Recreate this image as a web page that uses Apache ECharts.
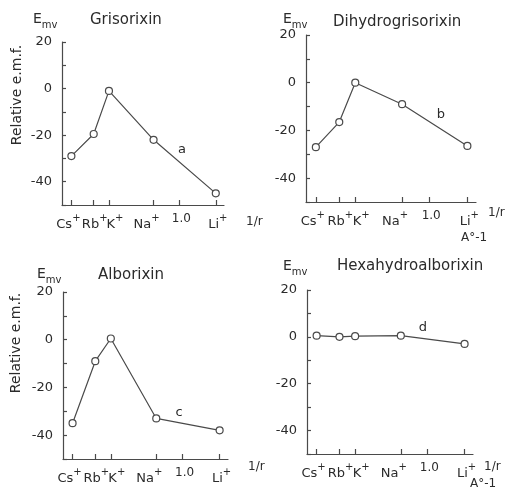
<!DOCTYPE html>
<html><head><meta charset="utf-8">
<script src="https://cdn.jsdelivr.net/npm/echarts@6/dist/echarts.min.js"></script>
<style>html,body{margin:0;background:#fff}#c{width:511px;height:495px}</style>
</head><body><div id="c"></div>
<script>
// Ions and their positions along the 1/r axis
const ions = ['Cs', 'Rb', 'K', 'Na', 'Li'];
const ionX = [0.54, 0.635, 0.70, 0.89, 1.155];
const refTick = 1.0;
const refLabel = '1.0';
const titles = ['Grisorixin', 'Dihydrogrisorixin', 'Alborixin', 'Hexahydroalborixin'];
const curveLetters = ['a', 'b', 'c', 'd'];
// Relative e.m.f. (mV)
const grisorixin = [-29, -19.5, -1, -22, -45];
const dihydrogrisorixin = [-27, -16.5, 0, -9, -26.5];
const alborixin = [-35, -9, 0.5, -33, -38];
const hexahydroalborixin = [0.5, 0, 0.3, 0.5, -3];
const yLabelled = [20, 0, -20, -40];

const seriesData = [grisorixin, dihydrogrisorixin, alborixin, hexahydroalborixin];
const INK = '#2b2b2b';
const LINE = '#4a4a4a';
const FONT = 'DejaVu Sans';
// horizontal nudge (px) of each ion label relative to its tick: Cs, Rb, K, Na, Li
const labelNudge = [-3, 1, 6, -7, 2];
const REF_NUDGE = 2;

const grids = [
  {left: 62, top: 42, width: 162, height: 163},
  {left: 306, top: 35, width: 170, height: 167},
  {left: 63, top: 292, width: 165, height: 167},
  {left: 307, top: 290, width: 166, height: 164}
];

const xTickVals = ionX.concat([refTick]);
// labels split over two stacked axes so none is dropped by overlap handling
const labelSetA = [ionX[0], ionX[2], refTick];
const labelSetB = [ionX[1], ionX[3], ionX[4]];

function xLabel(v) {
  if (Math.abs(v - refTick) < 1e-6) return '{r|' + refLabel + '}';
  let best = 0;
  for (let i = 0; i < ionX.length; i++) if (Math.abs(ionX[i] - v) < Math.abs(ionX[best] - v)) best = i;
  return '{n' + best + '|' + ions[best] + '}{p' + best + '|+}';
}
const rich = {};
ions.forEach((ion, i) => {
  const s = labelNudge[i];
  const l = s >= 0 ? 2 * s : 0, r = s < 0 ? -2 * s : 0;
  rich['n' + i] = {fontFamily: FONT, fontSize: 13, color: INK, lineHeight: 18, verticalAlign: 'bottom', padding: [0, 0, 0, l]};
  rich['p' + i] = {fontFamily: FONT, fontSize: 10, color: INK, lineHeight: 10, verticalAlign: 'top', padding: [0, r, 0, 0]};
});
rich.r = {fontFamily: FONT, fontSize: 12, color: INK, lineHeight: 18, verticalAlign: 'top', padding: [0, 0, 0, 2 * REF_NUDGE]};

function makeX(i, labels, main) {
  return {
    type: 'value', gridIndex: i, min: 0.5, max: 1.19, position: 'bottom',
    axisLine: {show: main, onZero: false, lineStyle: {color: LINE, width: 1.2}},
    axisTick: {show: main, inside: true, length: 5, customValues: xTickVals, lineStyle: {color: LINE, width: 1.2}},
    axisLabel: {
      show: true, customValues: labels, margin: 8, formatter: xLabel, hideOverlap: false,
      showMinLabel: true, showMaxLabel: true, rich: rich
    },
    splitLine: {show: false}
  };
}
const xAxes = grids.map((g, i) => makeX(i, labelSetA, true))
  .concat(grids.map((g, i) => makeX(i, labelSetB, false)));

const yAxes = grids.map((g, i) => ({
  type: 'value', gridIndex: i, min: -50, max: 20, interval: 10,
  axisLine: {show: true, lineStyle: {color: LINE, width: 1.2}},
  axisTick: {show: true, inside: true, length: 4, lineStyle: {color: LINE, width: 1.2}},
  axisLabel: {
    show: true, margin: 10, fontFamily: FONT, fontSize: 13, color: INK,
    formatter: v => yLabelled.indexOf(v) >= 0 ? String(v) : ''
  },
  splitLine: {show: false}
}));

const series = seriesData.map((d, i) => ({
  type: 'line', xAxisIndex: i, yAxisIndex: i,
  data: d.map((v, k) => [ionX[k], v]),
  symbol: 'circle', symbolSize: 7, showSymbol: true,
  itemStyle: {color: '#fff', borderColor: LINE, borderWidth: 1.2},
  lineStyle: {color: LINE, width: 1.2},
  animation: false
}));

function txt(x, y, text, size, extra) {
  return {
    type: 'text', x: x, y: y, silent: true,
    style: Object.assign({text: text, fill: INK, font: size + 'px "' + FONT + '"', textAlign: 'left', textVerticalAlign: 'middle'}, extra || {})
  };
}
function emv(x, y) {
  return {
    type: 'text', x: x, y: y, silent: true,
    style: {
      text: '{e|E}{s|mv}', textAlign: 'left', textVerticalAlign: 'middle',
      rich: {
        e: {fontFamily: FONT, fontSize: 14, fill: INK, color: INK, lineHeight: 18, verticalAlign: 'top'},
        s: {fontFamily: FONT, fontSize: 10, fill: INK, color: INK, lineHeight: 18, verticalAlign: 'bottom'}
      }
    }
  };
}

const graphic = [
  emv(33, 21), txt(90, 20, titles[0], 15),
  emv(283, 21), txt(333, 22, titles[1], 15),
  emv(37, 276), txt(98, 275, titles[2], 15),
  emv(283, 268), txt(337, 266, titles[3], 15),
  Object.assign(txt(17, 95, 'Relative e.m.f.', 14, {textAlign: 'center'}), {rotation: Math.PI / 2}),
  Object.assign(txt(16, 343, 'Relative e.m.f.', 14, {textAlign: 'center'}), {rotation: Math.PI / 2}),
  txt(246, 222, '1/r', 12), txt(488, 213, '1/r', 12),
  txt(248, 467, '1/r', 12), txt(484, 467, '1/r', 12),
  txt(461, 238, 'A°-1', 12), txt(470, 484, 'A°-1', 12),
  txt(182, 150, curveLetters[0], 13, {textAlign: 'center'}),
  txt(441, 115, curveLetters[1], 13, {textAlign: 'center'}),
  txt(179, 413, curveLetters[2], 13, {textAlign: 'center'}),
  txt(423, 328, curveLetters[3], 13, {textAlign: 'center'})
];

const chart = echarts.init(document.getElementById('c'), null, {renderer: 'canvas'});
chart.setOption({
  backgroundColor: '#fff',
  animation: false,
  grid: grids,
  xAxis: xAxes,
  yAxis: yAxes,
  series: series,
  graphic: graphic
});
</script>
</body></html>
